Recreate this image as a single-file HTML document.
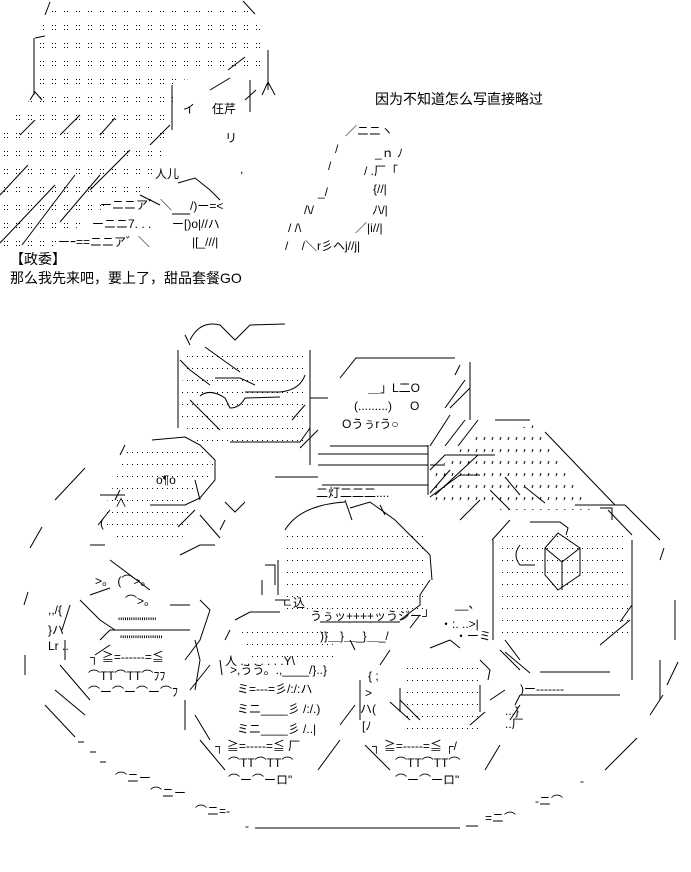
<!DOCTYPE html>
<html><head><meta charset="utf-8"><style>
html,body{margin:0;padding:0;background:#fff;width:691px;height:872px;overflow:hidden}
svg{display:block}
text{font-family:"Liberation Sans","Noto Sans CJK JP",sans-serif;font-size:12px;fill:#000}
.t{font-size:14px}
</style></head><body>
<svg width="691" height="872" viewBox="0 0 691 872" xmlns="http://www.w3.org/2000/svg">
<defs>
<pattern id="d" width="12" height="18" patternUnits="userSpaceOnUse"><rect x="4" y="7" width="1" height="1" fill="#000"/><rect x="4" y="11" width="1" height="1" fill="#000"/><rect x="7" y="7" width="1" height="1" fill="#000"/><rect x="7" y="11" width="1" height="1" fill="#000"/></pattern>
<pattern id="p" width="5" height="12" patternUnits="userSpaceOnUse"><rect x="2" y="8" width="1" height="1" fill="#000"/></pattern>
<pattern id="s" width="8" height="12" patternUnits="userSpaceOnUse"><path d="M5 5 L4 8" stroke="#000" stroke-width="1"/></pattern>
</defs>
<g fill="none" stroke="#000" stroke-width="1">
<path d="M45,8 L250,8 L266,40 L266,75 L175,80 L170,130 L150,190 L100,210 L50,248 L0,248 L0,130 L35,95 L38,45Z" fill="url(#d)" stroke="none"/>
<path d="M45,15 L50,2 M243,1 L255,14 M35,38 L45,36 M34,38 L34,95 M30,100 L35,92 L42,100 M268,50 L268,90 M262,95 L268,82 L275,95"/>
<path d="M0,195 L28,165 M0,243 L55,185 M22,245 L75,175 M60,222 L100,175 M90,190 L130,150 M60,135 L80,115 M20,135 L35,120 M100,135 L115,118 M150,145 L170,125"/>
<path d="M172,85 L172,130 M250,80 L250,112 M245,100 L256,90 M228,70 L245,57 M210,90 L230,78 M178,183 L195,178 L210,190 L220,200 M140,195 L160,205 M172,214 L190,214"/>
</g>
<text x="155" y="178">人儿</text>
<text x="183" y="113">イ</text>
<text x="212" y="113">仼芹</text>
<text x="225" y="142">リ</text>
<text x="240" y="173">,</text>
<text x="100" y="209">ーニニア゛＼</text>
<text x="92" y="228">ーニニ7. . .</text>
<text x="58" y="246">ーｰ==ニニア゛＼</text>
<text x="190" y="210">/)ー=&lt;</text>
<text x="172" y="228">ー[)o|//ハ</text>
<text x="192" y="246">|[_///|</text>
<text x="345" y="135">／ニニヽ</text>
<text x="335" y="153">/</text><text x="328" y="170">/</text>
<text x="375" y="157">_ｎ ﾉ</text>
<text x="364" y="175">/ .厂「</text>
<text x="373" y="193">{//|</text>
<text x="318" y="196">_/</text>
<text x="304" y="214">/\/</text><text x="372" y="214">ﾉ\/|</text>
<text x="288" y="232">/ /\</text><text x="355" y="232">／|i//|</text>
<text x="285" y="250">/&#160;&#160;&#160;&#160;/＼r彡ヘj//j|</text>
<text class="t" x="375" y="104">因为不知道怎么写直接略过</text>
<text class="t" x="10" y="264">【政委】</text>
<text class="t" x="10" y="283">那么我先来吧，要上了，甜品套餐GO</text>

<g fill="none" stroke="#000" stroke-width="1">
<path d="M55,500 L85,468 M30,548 L42,527 M24,605 L28,592 M25,655 L25,675 M45,705 L75,737 M78,742 L84,742 M90,752 L96,752 M100,762 L106,762 M255,828 L460,828 M466,826 L478,826 M605,770 L637,738 M650,715 L663,695 M667,685 L678,662 M660,560 L664,548 M675,600 L675,640"/>
</g>
<text x="115" y="782">⌒ニー</text><text x="150" y="797">⌒ニー</text><text x="195" y="815">⌒ニ=-</text><text x="245" y="830">-</text>
<text x="485" y="822">=ニ⌒</text><text x="535" y="805">-ニ⌒</text><text x="580" y="785">-</text>

<path d="M185,345 L305,345 L305,450 L205,450 L180,420Z" fill="url(#p)"/>
<g fill="none" stroke="#000">
<path d="M190,340 Q200,320 220,325 L235,340 L250,325 L285,324 M185,335 L190,345 M178,350 L178,428 M310,350 L310,465 M180,360 L190,370 L210,385 M205,347 L230,365 L240,372 M215,378 L240,378 L255,385 M245,392 L280,392 Q300,390 305,375 M200,396 Q210,388 225,398 L230,408 Q240,408 245,398 L280,397 M190,400 L220,430 M292,420 L305,405 M310,398 L328,398 M230,442 L300,442 L310,428"/>
</g>
<g fill="none" stroke="#000">
<path d="M340,378 L356,358 L455,358 M470,362 L470,420 M460,365 L455,375 M445,408 L465,380 M450,408 L470,388 M430,446 L450,415 M445,446 L465,420 M458,446 L478,420 M330,446 L428,446 M318,454 L428,454 M318,465 L428,465 M322,485 L428,485 M428,445 L428,495 M430,493 L450,470 M435,495 L478,455 M318,477 L275,477 M300,448 L318,430"/>
</g>
<text x="368" y="392">＿」L二O</text>
<text x="354" y="410">(.........)</text><text x="410" y="410">O</text>
<text x="342" y="428">Oうぅrう○</text>
<text x="316" y="497">二灯二二二....</text>
<path d="M128,448 L210,448 L215,470 L185,500 L195,535 L120,545 L100,520Z" fill="url(#p)"/>
<g fill="none" stroke="#000">
<path d="M152,440 L185,437 L200,445 L215,460 L215,480 L200,498 L185,505 L150,505 M120,455 L125,445 M115,500 L120,490 M100,495 L125,495 M110,510 L98,525 M195,480 L200,500 M200,515 L220,538 M178,527 L195,510 M180,555 L200,545 L215,545 M110,560 L150,590 M90,545 L105,545 M225,502 L235,512 L245,502 M220,530 L225,520"/>
</g>
<text x="156" y="484">o¶o</text>
<text x="115" y="507">∧</text><text x="100" y="527">(</text>
<path d="M478,435 L535,425 L595,510 L500,510 L470,500 L430,500 L430,475Z" fill="url(#s)"/>
<g fill="none" stroke="#000">
<path d="M495,420 L530,420 M545,432 L615,505 M430,470 L445,455 L495,455 M445,465 L430,465 M430,497 L460,475 L480,475 M505,477 L520,495 M525,487 L545,503 M490,490 L510,510 M575,505 L625,505 M600,508 L612,508 L612,520 M625,505 L660,540 M460,520 L480,500"/>
</g>
<path d="M500,525 L625,525 L630,640 L500,640Z" fill="url(#p)"/>
<g fill="none" stroke="#000">
<path d="M493,540 L493,640 M510,520 L492,540 M530,522 L560,522 L568,528 L566,535 M632,540 L632,680 M608,510 L632,535 M545,548 L558,533 L580,548 L580,575 L558,590 L545,575 Z M545,548 L562,562 L580,548 M562,562 L562,590 M520,545 Q512,555 520,565 L535,565 M500,650 L520,670 M505,652 L530,673 M540,672 L610,672 M620,622 L632,605 M600,645 L630,620 M520,695 L620,695 M660,660 L660,700"/>
</g>
<path d="M285,535 L425,535 L425,610 L285,610Z" fill="url(#p)"/>
<g fill="none" stroke="#000">
<path d="M285,530 Q300,505 345,502 M350,508 L370,502 L395,520 L430,555 L432,580 M278,560 L278,595 M265,565 L275,565 L275,585 M275,600 L290,600 M262,580 L262,595 M430,580 L420,595 L420,605 L400,620 M320,622 L400,622 M410,628 L420,615 M345,500 L352,520 M380,505 L385,515"/>
</g>
<text x="282" y="607">ㄴ込</text>
<text x="310" y="620">うぅッ++++ッうジー┘</text>
<text x="320" y="640">)}＿}＿_}＿_/</text>
<g fill="none" stroke="#000">
<path d="M90,595 L110,588 M70,605 L62,630 M80,600 L100,620 L115,630 M200,600 L210,610 L200,640 L185,660 M100,640 L110,630 L190,630 M95,655 L110,645 M65,640 L65,660 M60,665 L90,700 M55,690 L85,715 M195,640 L200,660 L195,690 M190,690 L210,665 M170,605 L190,605"/>
</g>
<text x="95" y="585">&gt;。 (⌒&gt;。</text>
<text x="125" y="605">⌒&gt;。</text>
<text x="118" y="626">"""""""""</text>
<text x="120" y="644">""""""""""</text>
<text x="90" y="661">┐ ≧=------=≦</text>
<text x="88" y="680">⌒TT⌒TT⌒ﾌﾌ</text>
<text x="88" y="696">⌒ー⌒ー⌒ー⌒ﾌ</text>
<text x="48" y="614">,,/{</text><text x="48" y="634">}ハ</text><text x="48" y="650">Lr ..</text>
<path d="M240,625 L330,625 L335,660 L250,660Z" fill="url(#p)"/>
<g fill="none" stroke="#000">
<path d="M235,620 L250,612 L280,612 M225,640 L230,630 M220,660 L222,675 M195,715 L210,740 M200,740 L225,770 M340,740 L318,770 M355,705 L340,725 M360,680 L360,720 M185,700 L185,730 M350,640 L355,650"/>
</g>
<text x="225" y="665">人 . . . . . . .Y\</text>
<text x="230" y="674">&gt;,うう。.,____/}..}</text>
<text x="237" y="693">ミ=---=彡/:/:ハ</text>
<text x="237" y="713">ミニ____彡 /:/.)</text>
<text x="237" y="733">ミニ____彡 /..|</text>
<text x="215" y="750">┐ ≧=-----=≦ 厂</text>
<text x="228" y="767">⌒TT⌒TT⌒</text>
<text x="228" y="784">⌒ー⌒ーロ"</text>
<path d="M405,660 L480,660 L480,740 L405,740Z" fill="url(#p)"/>
<g fill="none" stroke="#000">
<path d="M380,665 L390,650 M400,688 L400,712 M480,685 L480,712 M390,702 L410,720 M400,700 L420,720 M470,725 L485,712 M490,700 L505,690 M505,640 L520,660 M480,660 L490,670 L488,680 M365,745 L390,770 M500,745 L485,770 M510,720 L520,705 M520,695 L515,705 M430,648 L450,640 M450,640 L460,648"/>
</g>
<text x="368" y="680">{ ;</text>
<text x="365" y="697">&gt;</text><text x="360" y="713">ハ(</text><text x="362" y="730">[ﾉ</text>
<text x="520" y="693">)ー-------</text>
<text x="505" y="715">...}</text><text x="505" y="728">..厂</text>
<text x="372" y="750">┐ ≧=-----=≦ ┌/</text>
<text x="395" y="767">⌒TT⌒TT⌒</text>
<text x="395" y="784">⌒ー⌒ーロ"</text>
<text x="440" y="628">・:. ..&gt;|</text>
<text x="455" y="640">・ーミ</text>
<text x="455" y="608">__、</text>
</svg>
</body></html>
